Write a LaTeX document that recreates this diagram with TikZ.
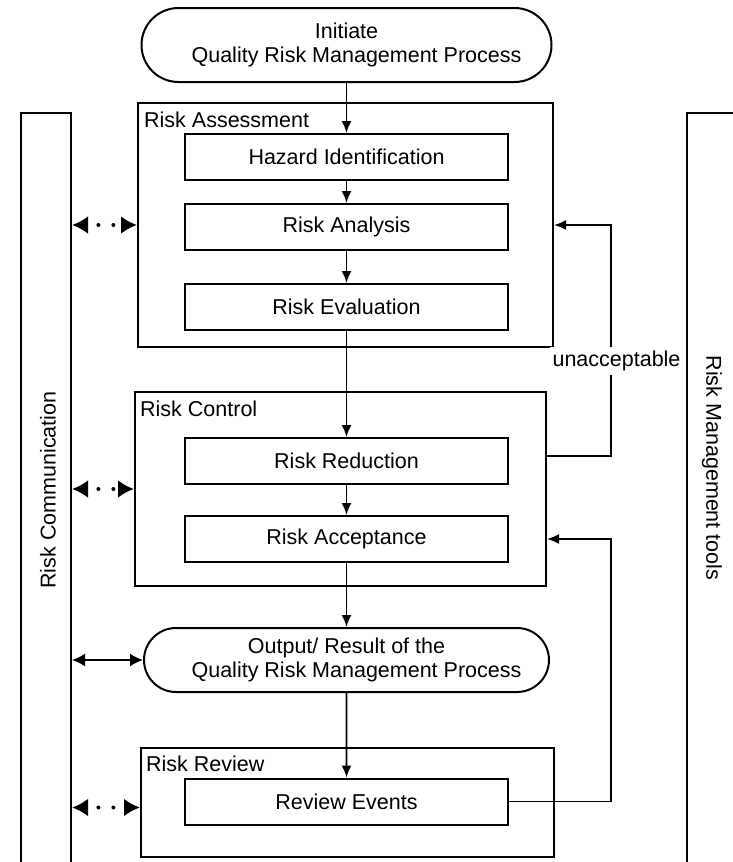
\documentclass[tikz,border=0pt]{standalone}
\usepackage{fontspec}
\setmainfont{Liberation Sans}
\usetikzlibrary{positioning}
\usetikzlibrary{arrows.meta}
\usetikzlibrary{shapes.misc}

\begin{document}
\begin{tikzpicture}[
	x=1pt, y=-1pt,
	every node/.style={font=\fontsize{21.5}{24}\selectfont},
	terminal/.style={rounded rectangle, draw, line width=2pt, align=center, inner xsep=2pt, minimum width=414pt},
	stage/.style={rectangle, draw, line width=2pt, minimum width=323pt, minimum height=46pt},
	group/.style={rectangle, draw, line width=2pt},
	grouplabel/.style={anchor=north west, inner sep=0pt},
	bar/.style={rectangle, draw, line width=2pt, minimum height=800pt},
	flow/.style={-{Latex[length=12pt, width=10pt]}, line width=1.8pt},
	link/.style={{Latex[length=13pt, width=13pt]}-{Latex[length=13pt, width=13pt]}, line width=1.8pt},
	dotlink/.style={{Latex[length=16pt, width=18pt]}-{Latex[length=16pt, width=18pt]}, line width=4pt, line cap=round, dash pattern=on 0pt off 15pt, dash phase=3pt},
]
	\useasboundingbox (0,0) rectangle (733,862);
	\clip (0,0) rectangle (733,862);

	% side bars
	\node[bar, minimum width=50pt, anchor=north] (comm) at (46,112) {};
	\node[bar, minimum width=100pt, anchor=north west] (tools) at (686,112) {};
	\node[rotate=90] (commtext) at (48,490) {Risk Communication};
	\node[rotate=-90] (toolstext) at (712,468) {Risk Management tools};

	% groups
	\node[group, minimum width=415pt, minimum height=244pt] (assess) at (345.5,225) {};
	\node[group, minimum width=411pt, minimum height=194pt] (control) at (340.5,489) {};
	\node[group, minimum width=413pt, minimum height=109pt] (review) at (347.5,802.5) {};
	\node[grouplabel] at ([xshift=7pt, yshift=-10pt]assess.north west) {Risk Assessment};
	\node[grouplabel] at ([xshift=6pt, yshift=-10pt]control.north west) {Risk Control};
	\node[grouplabel] at ([xshift=6pt, yshift=-9pt]review.north west) {Risk Review};

	% steps
	\node[terminal, minimum height=74pt] (init) at (346.5,45) {Initiate\\\hspace*{20pt}Quality Risk Management Process};
	\node[stage] (hazard) at (346.5,157) {Hazard Identification};
	\node[stage, below=22pt of hazard] (analysis) {Risk Analysis};
	\node[stage, below=32pt of analysis] (evaluation) {Risk Evaluation};
	\node[stage] (reduction) at (346.5,461) {Risk Reduction};
	\node[stage, below=30pt of reduction] (acceptance) {Risk Acceptance};
	\node[terminal, minimum height=64pt, minimum width=409pt] (output) at (346.5,660) {Output/ Result of the\\\hspace*{20pt}Quality Risk Management Process};
	\node[stage] (events) at (346.5,801.5) {Review Events};

	\draw[flow] (init) -- (hazard);
	\draw[flow] (hazard) -- (analysis);
	\draw[flow] (analysis) -- (evaluation);
	\draw[flow] (evaluation) -- (reduction);
	\draw[flow] (reduction) -- (acceptance);
	\draw[flow] (acceptance) -- (output);
	\draw[flow] (output) -- (events);

	% feedback loops
	\coordinate (back) at (611,362);
	\coordinate (backlow) at (611,700);
	\draw[flow] ([yshift=5pt]control.east |- reduction) -| (back) |- (assess.east);
	\draw[flow] (events.east) -| (backlow) |- (control.east |- acceptance);
	\node[fill=white, inner xsep=3pt, inner ysep=4pt] (unaccept) at (616.5,361) {unacceptable};

	% communication
	\draw[dotlink] (comm.east |- assess) -- (assess.west);
	\draw[dotlink] (comm.east |- control) -- (control.west);
	\draw[link] (comm.east |- output) -- (output.west);
	\draw[dotlink] ([yshift=-5pt]comm.east |- review) -- ([yshift=-5pt]review.west);
\end{tikzpicture}
\end{document}
